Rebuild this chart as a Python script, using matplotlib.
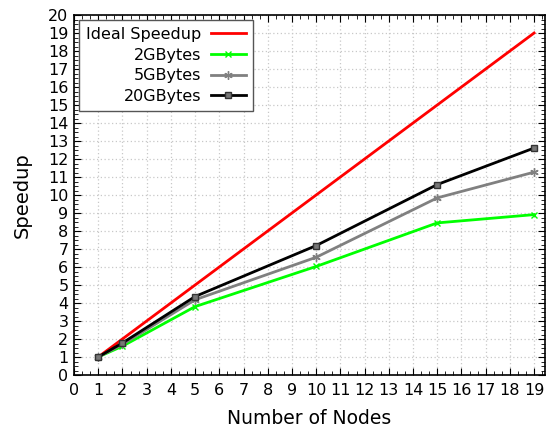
import matplotlib
matplotlib.use("Agg")
import matplotlib.pyplot as plt
from matplotlib.ticker import MultipleLocator

nodes = [1, 2, 5, 10, 15, 19]
ideal = [1, 2, 5, 10, 15, 19]
gb2 = [1, 1.6, 3.8, 6.03, 8.45, 8.91]
gb5 = [1, 1.7, 4.18, 6.54, 9.84, 11.27]
gb20 = [1, 1.78, 4.36, 7.19, 10.58, 12.61]

fig = plt.figure(figsize=(5.47, 4.30), dpi=100)
W, H = 547, 430
ax = fig.add_axes([74 / W, 1 - 375 / H, (545 - 74) / W, (375 - 15) / H])

ax.plot(nodes, ideal, color="#ff0000", lw=2, label="Ideal Speedup")
ax.plot(nodes, gb2, color="#00ff00", lw=2, marker="x", ms=5, mew=1, label="2GBytes")
ax.plot(nodes, gb5, color="#808080", lw=2, marker=(6, 2, 0), ms=6, mew=1, label="5GBytes")
ax.plot(nodes, gb20, color="#000000", lw=2, marker="s", ms=5, mfc="#777777", mec="#333333", mew=1, label="20GBytes")

ax.set_xlim(0, 19.45)
ax.set_ylim(0, 20)
ax.xaxis.set_major_locator(MultipleLocator(1))
ax.xaxis.set_minor_locator(MultipleLocator(1 / 3))
ax.yaxis.set_major_locator(MultipleLocator(1))
ax.yaxis.set_minor_locator(MultipleLocator(0.25))
ax.tick_params(which="both", direction="in", top=True, right=True, labelsize=11.5)
ax.tick_params(axis="x", pad=6)
ax.tick_params(axis="y", pad=4)
ax.tick_params(which="major", length=5)
ax.tick_params(which="minor", length=3)
ax.grid(True, which="major", color="#c8c8c8", linestyle=(0, (1, 2)), lw=0.9)
for s in ax.spines.values():
    s.set_linewidth(1.2)

ax.set_xlabel("Number of Nodes", fontsize=13.5, labelpad=8)
ax.set_ylabel("Speedup", fontsize=14, labelpad=12)

leg = ax.legend(loc="upper left", markerfirst=False, fontsize=11.5, frameon=True, fancybox=False,
                edgecolor="#555555", framealpha=1, borderaxespad=0.3, handlelength=2.2,
                labelspacing=0.35, borderpad=0.45, handletextpad=0.6)
leg.get_frame().set_linewidth(1.0)
for vp in leg._legend_handle_box.get_children():
    vp.align = "right"

fig.savefig("out.png", dpi=100)
